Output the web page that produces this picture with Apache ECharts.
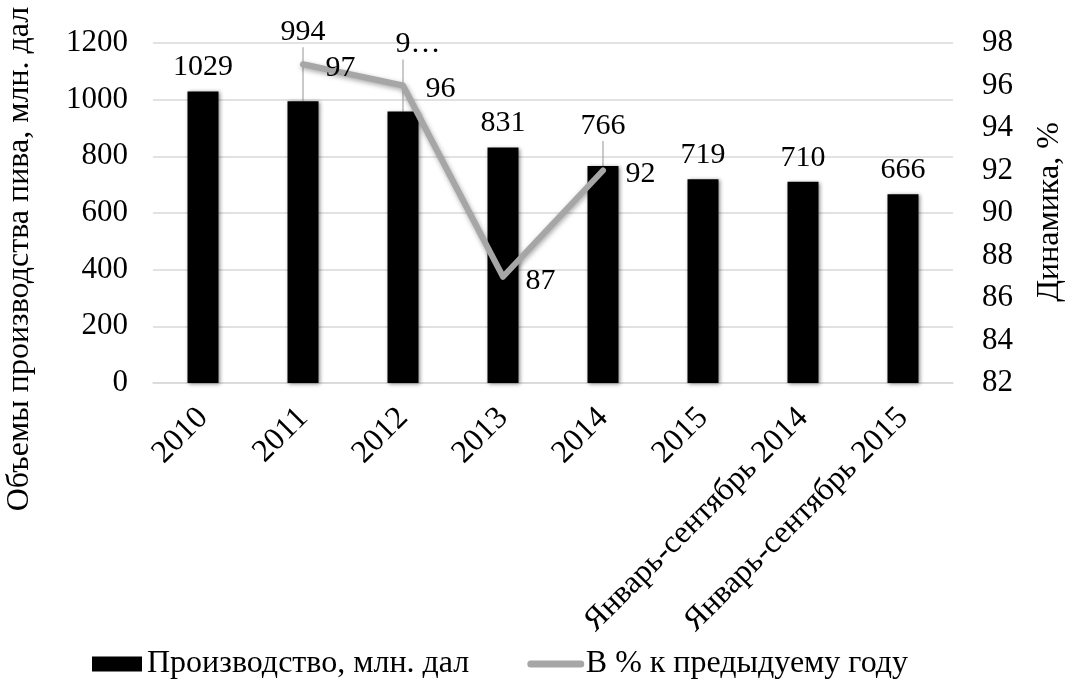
<!DOCTYPE html>
<html>
<head>
<meta charset="utf-8">
<script src="https://cdn.jsdelivr.net/npm/echarts@6/dist/echarts.min.js"></script>
<style>
  html, body { margin: 0; padding: 0; background: #ffffff; }
  #chart { width: 1073px; height: 681px; }
</style>
</head>
<body>
<div id="chart"></div>
<script>
// Beer production volumes and year-over-year dynamics
const categories = ['2010', '2011', '2012', '2013', '2014', '2015', 'Январь-сентябрь 2014', 'Январь-сентябрь 2015'];
const production = [1029, 994, 958, 831, 766, 719, 710, 666];
const dynamics = [null, 97, 96, 87, 92, null, null, null];
const leftTicks = { min: 0, max: 1200, interval: 200 };
const rightTicks = { min: 82, max: 98, interval: 2 };

const FONT = '"Liberation Serif", "Times New Roman", serif';
const LINE_GRAY = '#a6a6a6';

const chart = echarts.init(document.getElementById('chart'), null, { renderer: 'canvas' });

// Bar labels lifted (with a guide line) where they would collide with the line series
const barLabelShift = { 1: { dy: -45 }, 2: { dy: -43 }, 4: { dy: -16 } };

const barData = production.map((v, i) => {
  const item = { value: v, labelLine: { show: !!barLabelShift[i] } };
  if (i === 2) {
    // truncated label; leading no-break spaces keep the guide line at the bar centre
    item.label = { formatter: '\u00a0\u00a0\u00a0\u00a09…' };
  }
  return item;
});

chart.setOption({
  animation: false,
  backgroundColor: '#ffffff',
  textStyle: { fontFamily: FONT, color: '#000' },
  grid: { left: 153, right: 120, top: 43, bottom: 298, containLabel: false },
  legend: {
    left: 87, top: 643,
    itemGap: 58,
    itemWidth: 50, itemHeight: 15,
    textStyle: { fontFamily: FONT, fontSize: 32, color: '#000' },
    data: [
      { name: 'Производство, млн. дал', icon: 'rect' },
      { name: 'В % к предыдуему году', lineStyle: { width: 7, color: LINE_GRAY, cap: 'round', shadowBlur: 0 } }
    ]
  },
  xAxis: {
    type: 'category',
    data: categories,
    axisLine: { lineStyle: { color: '#d9d9d9', width: 1.5 } },
    axisTick: { show: false },
    axisLabel: { rotate: 45, margin: 30, fontFamily: FONT, fontSize: 32, color: '#000', interval: 0 }
  },
  yAxis: [
    {
      type: 'value',
      min: leftTicks.min, max: leftTicks.max, interval: leftTicks.interval,
      axisLine: { show: false }, axisTick: { show: false },
      axisLabel: { margin: 25, fontFamily: FONT, fontSize: 31, color: '#000', formatter: v => String(v) },
      splitLine: { lineStyle: { color: '#d9d9d9', width: 1.5 } }
    },
    {
      type: 'value',
      min: rightTicks.min, max: rightTicks.max, interval: rightTicks.interval,
      axisLine: { show: false }, axisTick: { show: false },
      axisLabel: { margin: 29, fontFamily: FONT, fontSize: 31, color: '#000', formatter: v => String(v) },
      splitLine: { show: false }
    }
  ],
  graphic: [
    {
      type: 'text', x: 20, y: 259, rotation: Math.PI / 2,
      style: { text: 'Объемы производства пива, млн. дал', font: '32px ' + FONT, fill: '#000', align: 'center', verticalAlign: 'middle' }
    },
    {
      type: 'text', x: 1050, y: 212, rotation: Math.PI / 2,
      style: { text: 'Динамика, %', font: '32px ' + FONT, fill: '#000', align: 'center', verticalAlign: 'middle' }
    }
  ],
  series: [
    {
      name: 'Производство, млн. дал',
      type: 'bar',
      yAxisIndex: 0,
      barWidth: 31,
      data: barData,
      itemStyle: { color: '#000000', shadowColor: 'rgba(0,0,0,0.45)', shadowBlur: 4, shadowOffsetX: 1, shadowOffsetY: 1 },
      label: {
        show: true, position: 'top', distance: 9,
        fontFamily: FONT, fontSize: 30, color: '#000'
      },
      labelLine: { show: true, lineStyle: { color: LINE_GRAY, width: 1.2 } },
      labelLayout: function (params) {
        const s = barLabelShift[params.dataIndex];
        return s ? { dy: s.dy } : {};
      },
      z: 2
    },
    {
      name: 'В % к предыдуему году',
      type: 'line',
      yAxisIndex: 1,
      data: dynamics,
      connectNulls: false,
      symbol: 'circle',
      symbolSize: 1,
      showSymbol: true,
      lineStyle: { color: LINE_GRAY, width: 6, shadowColor: 'rgba(0,0,0,0.35)', shadowBlur: 5, shadowOffsetX: 1, shadowOffsetY: 2, cap: 'round', join: 'round' },
      itemStyle: { color: 'rgba(166,166,166,0)' },
      label: {
        show: true, position: 'right', distance: 22, offset: [0, 4],
        fontFamily: FONT, fontSize: 30, color: '#000'
      },
      z: 3
    }
  ]
});
</script>
</body>
</html>
